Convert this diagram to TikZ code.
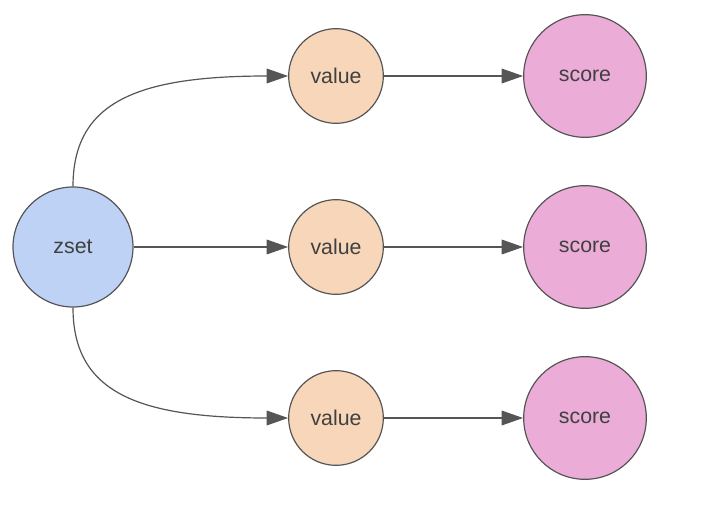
\documentclass[tikz,border=0pt]{standalone}
\usepackage{fontspec}
\setmainfont{Liberation Sans}
\usetikzlibrary{arrows.meta}
\definecolor{zsetblue}{RGB}{190,210,245}
\definecolor{valpeach}{RGB}{248,214,186}
\definecolor{scorepink}{RGB}{236,172,216}
\definecolor{edgegray}{RGB}{85,85,85}
\begin{document}
\begin{tikzpicture}[x=0.75pt,y=0.75pt,yscale=-1,xscale=1,
  ball/.style={circle,draw=edgegray,line width=0.9pt,inner sep=0pt,text=black!75,font=\fontsize{16}{18}\selectfont},
  zsetball/.style={ball,fill=zsetblue,minimum size=90pt},
  valball/.style={ball,fill=valpeach,minimum size=71pt},
  scoreball/.style={ball,fill=scorepink,minimum size=92pt},
  link/.style={draw=edgegray,line width=0.9pt,-{Triangle[length=16pt,width=11pt]}}]
\useasboundingbox (0,0) rectangle (718,506);
% zset
\node[zsetball] (zset) at (73,247) {zset};
% values
\node[valball] (val1) at (336,76) {value};
\node[valball] (val2) at (336,247) {value};
\node[valball] (val3) at (336,418) {value};
% scores
\node[scoreball] (score1) at (585,76) {score};
\node[scoreball] (score2) at (585,247) {score};
\node[scoreball] (score3) at (585,418) {score};
% links
\draw[link] (zset.north) .. controls +(0,-85) and +(-150,0) .. (val1.west);
\draw[link] (zset.east) -- (val2.west);
\draw[link] (zset.south) .. controls +(0,85) and +(-150,0) .. (val3.west);
\draw[link] (val1.east) -- (score1.west);
\draw[link] (val2.east) -- (score2.west);
\draw[link] (val3.east) -- (score3.west);
\end{tikzpicture}
\end{document}
